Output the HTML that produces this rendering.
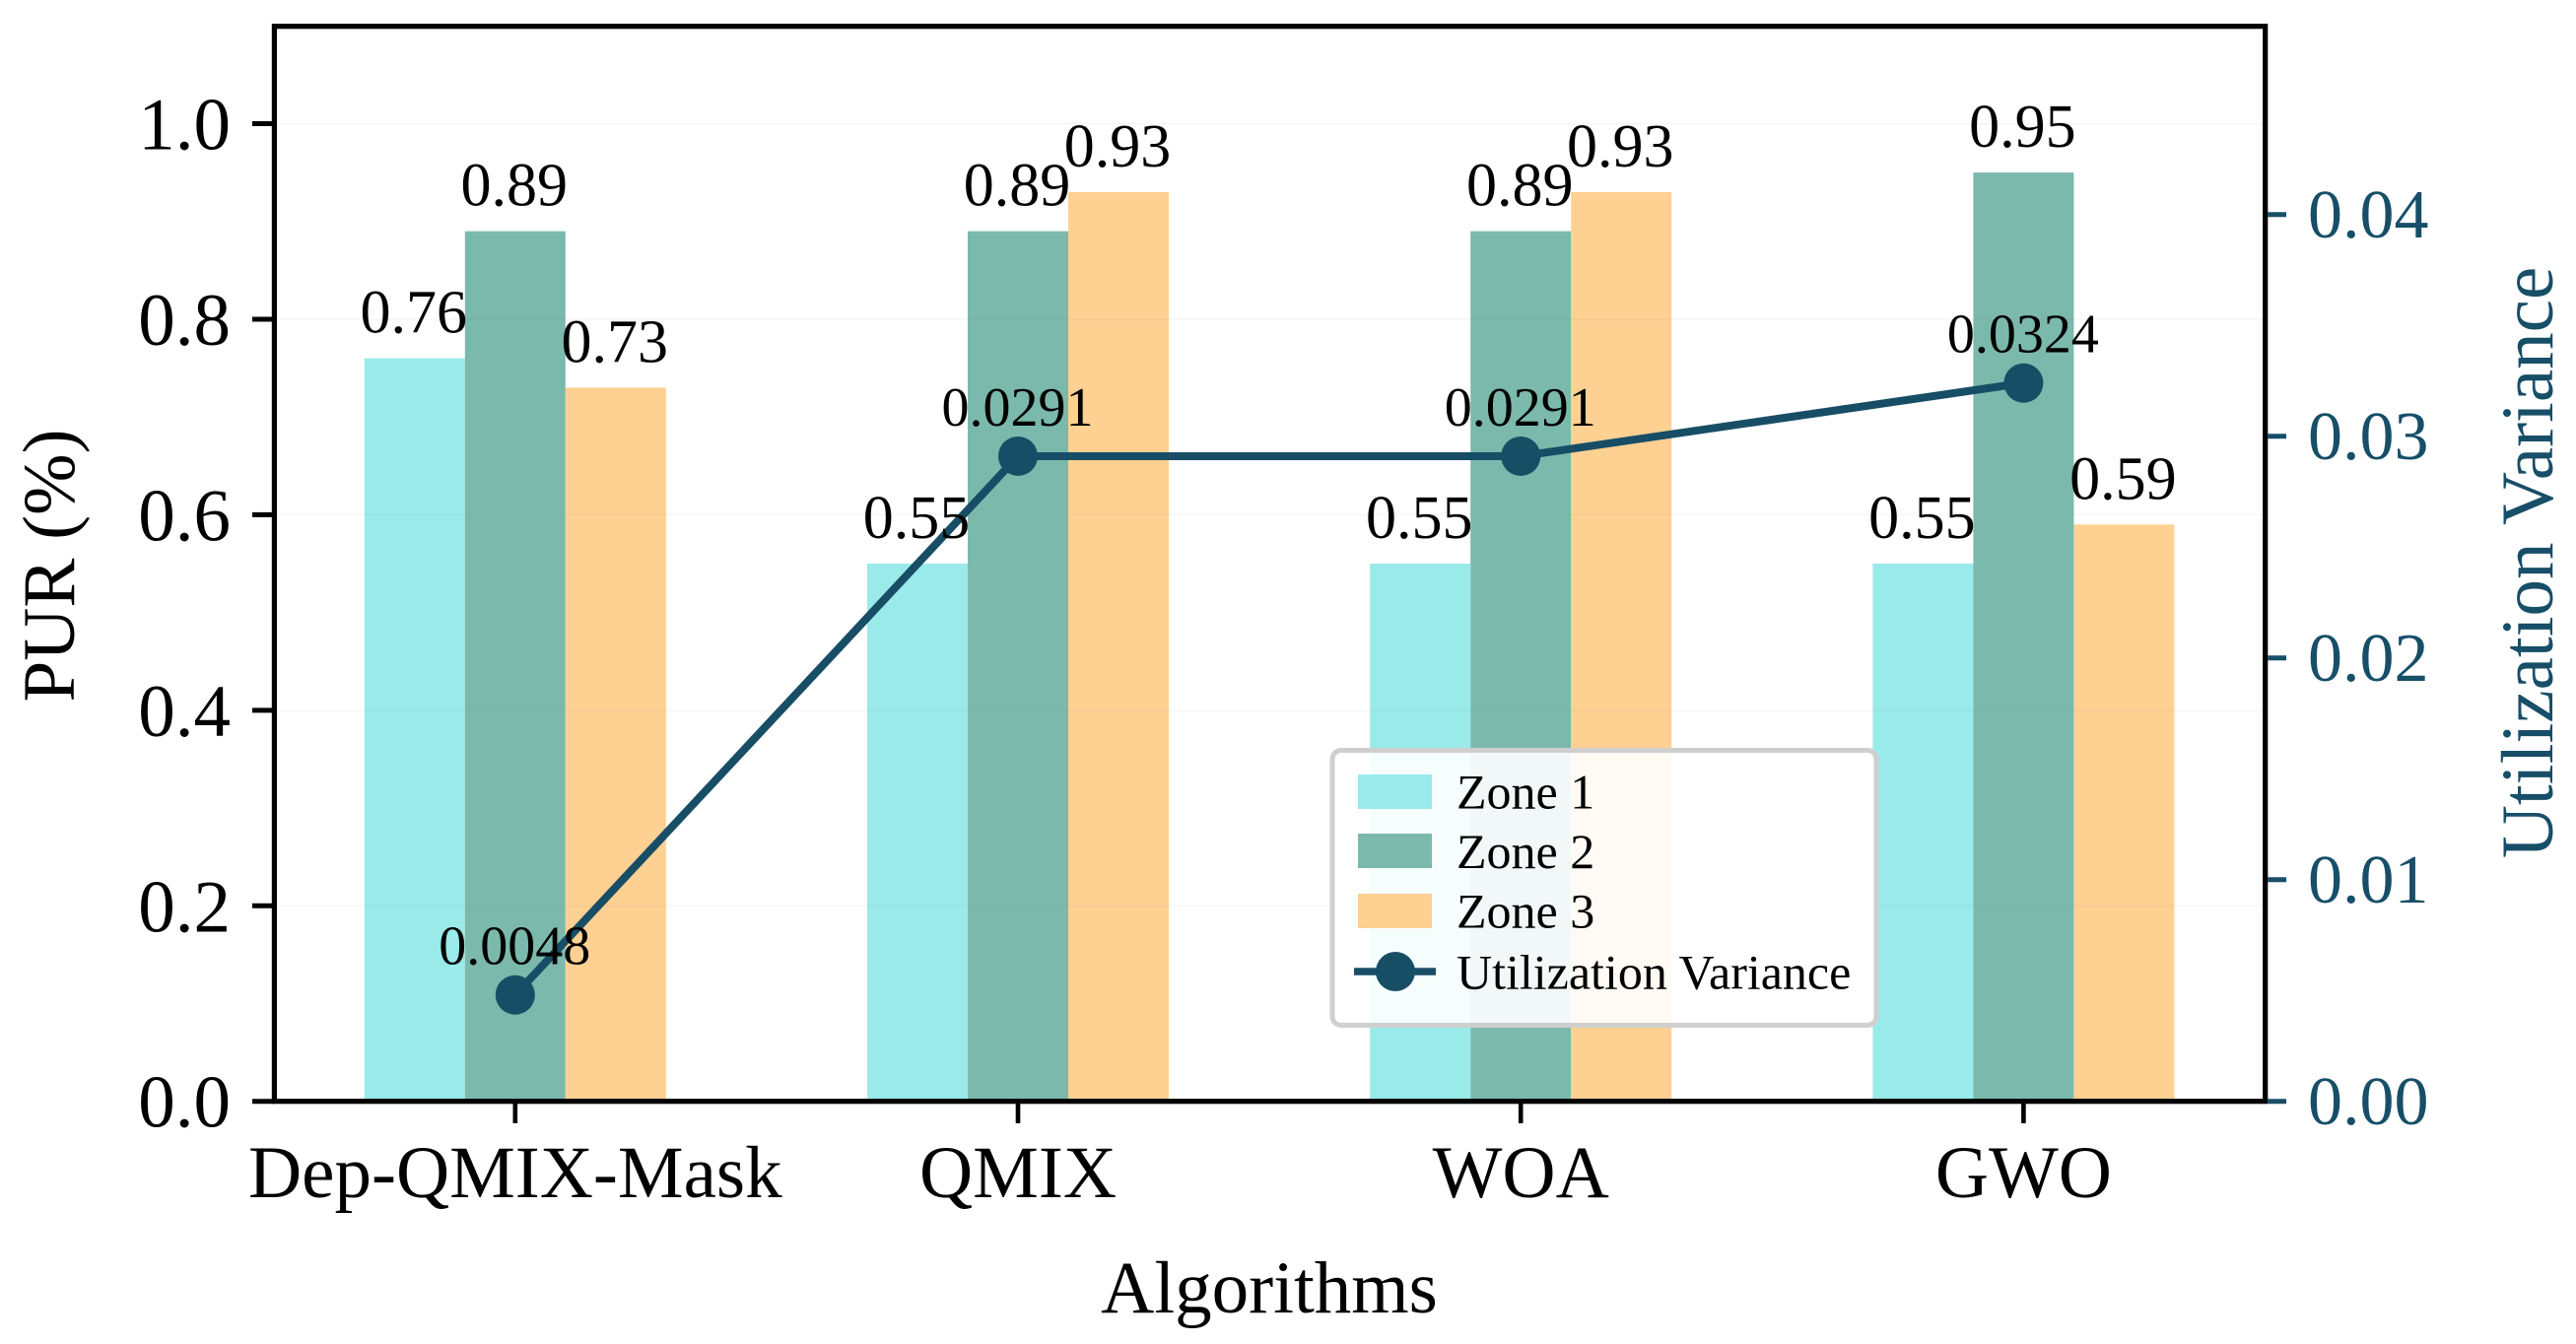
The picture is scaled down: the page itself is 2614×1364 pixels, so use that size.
<!DOCTYPE html>
<html lang="en">
<head>
<meta charset="utf-8">
<title>PUR and Utilization Variance by Algorithm</title>
<style>
html,body{margin:0;padding:0;background:#fff;width:2614px;height:1364px;overflow:hidden}
svg{display:block}
text{font-family:"Liberation Serif","Times New Roman",serif}
</style>
</head>
<body>
<svg id="chart" xmlns="http://www.w3.org/2000/svg" width="2614" height="1364" viewBox="0 0 2614 1364">
  <g id="grid"></g>
  <g id="bars"></g>
  <g id="line"></g>
  <g id="labels"></g>
  <g id="axes"></g>
  <text x="1288" y="1332" font-size="75" text-anchor="middle" fill="#000">Algorithms</text>
  <text transform="translate(75,574) rotate(-90)" font-size="75" text-anchor="middle" fill="#000">PUR (%)</text>
  <text transform="translate(2590,571) rotate(-90)" font-size="75" text-anchor="middle" fill="#174e68">Utilization Variance</text>
  <g>
    <rect x="1352" y="761.5" width="552" height="279" rx="9" ry="9" fill="#fff" fill-opacity="0.9" stroke="#cfcfcf" stroke-width="5"/>
    <rect x="1378" y="786" width="75" height="35" fill="#9aeaea"/>
    <rect x="1378" y="846" width="75" height="35" fill="#7bb9ac"/>
    <rect x="1378" y="907" width="75" height="35" fill="#fed092"/>
    <line x1="1374" y1="986" x2="1457" y2="986" stroke="#184d66" stroke-width="7.5"/>
    <circle cx="1416" cy="986" r="20" fill="#184d66"/>
    <text x="1478" y="820.5" font-size="50" fill="#000">Zone 1</text>
    <text x="1478" y="881" font-size="50" fill="#000">Zone 2</text>
    <text x="1478" y="941.5" font-size="50" fill="#000">Zone 3</text>
    <text x="1478" y="1003.5" font-size="50" fill="#000">Utilization Variance</text>
  </g>
</svg>
<script>
const categories = ["Dep-QMIX-Mask", "QMIX", "WOA", "GWO"];
const zone1Values = [0.76, 0.55, 0.55, 0.55];
const zone2Values = [0.89, 0.89, 0.89, 0.95];
const zone3Values = [0.73, 0.93, 0.93, 0.59];
const varianceValues = [0.0048, 0.0291, 0.0291, 0.0324];
const leftTicks = [0.0, 0.2, 0.4, 0.6, 0.8, 1.0];
const rightTicks = [0.00, 0.01, 0.02, 0.03, 0.04];

const NS = "http://www.w3.org/2000/svg";
const plotLeft = 278.4, plotRight = 2298.7, plotTop = 26.7, plotBottom = 1117.7;
const firstCenter = 522.8, groupStep = 510.2, barWidth = 102;
const leftPxPerUnit = 992.2, rightPxPerUnit = 22500;
const teal = "#184d66", tealText = "#174e68";

function xCat(i) { return firstCenter + groupStep * i; }
function yLeft(v) { return plotBottom - leftPxPerUnit * v; }
function yRight(v) { return plotBottom - rightPxPerUnit * v; }
function make(tag, parent) {
  const el = document.createElementNS(NS, tag);
  parent.appendChild(el);
  return el;
}
function put(el, props) {
  for (const k in props) el.setAttribute(k, props[k]);
  return el;
}

const gridG = document.getElementById("grid");
const barsG = document.getElementById("bars");
const lineG = document.getElementById("line");
const labelsG = document.getElementById("labels");
const axesG = document.getElementById("axes");

/* gridlines */
leftTicks.forEach(function (t) {
  const g = make("line", gridG);
  
  
  put(g, { x1: plotLeft, x2: plotRight, y1: yLeft(t), y2: yLeft(t), stroke: "rgba(128,128,128,0.07)", "stroke-width": 1.6 });
});

/* bars, moved below the gridlines by paint order */
const zones = [
  { values: zone1Values, color: "#9aeaea", offset: -1 },
  { values: zone2Values, color: "#7bb9ac", offset: 0 },
  { values: zone3Values, color: "#fed092", offset: 1 }
];
zones.forEach(function (z) {
  z.values.forEach(function (v, i) {
    const cx = xCat(i) + z.offset * barWidth;
    const r = make("rect", barsG);
    
    
    put(r, { x: cx - barWidth / 2, y: yLeft(v), width: barWidth, height: plotBottom - yLeft(v), fill: z.color });
    const t = make("text", labelsG);
    
    
    put(t, { x: cx - 1, y: yLeft(v) - 26, "font-size": 62, "text-anchor": "middle", fill: "#000" });
    t.textContent = v.toFixed(2);
  });
});
document.getElementById("chart").insertBefore(barsG, gridG);

/* variance line */
const poly = make("polyline", lineG);


put(poly, {
  points: varianceValues.map(function (v, i) { return xCat(i) + "," + yRight(v); }).join(" "),
  fill: "none", stroke: teal, "stroke-width": 8, "stroke-linejoin": "round"
});
varianceValues.forEach(function (v, i) {
  const c = make("circle", lineG);
  
  
  put(c, { cx: xCat(i), cy: yRight(v), r: 20, fill: teal });
  const t = make("text", labelsG);
  
  
  put(t, { x: xCat(i) - 0.5, y: yRight(v) - 31, "font-size": 56, "text-anchor": "middle", fill: "#000" });
  t.textContent = v.toFixed(4);
});

/* spines */
const frame = make("rect", axesG);


put(frame, { x: plotLeft, y: plotTop, width: plotRight - plotLeft, height: plotBottom - plotTop, fill: "none", stroke: "#000", "stroke-width": 5.2 });

/* left axis ticks */
leftTicks.forEach(function (t) {
  const m = make("line", axesG);
  
  
  put(m, { x1: 256, x2: plotLeft, y1: yLeft(t), y2: yLeft(t), stroke: "#000", "stroke-width": 5 });
  const l = make("text", axesG);
  
  
  put(l, { x: 234, y: yLeft(t) + 26, "font-size": 75, "text-anchor": "end", fill: "#000" });
  l.textContent = t.toFixed(1);
});

/* right axis ticks */
rightTicks.forEach(function (t) {
  const m = make("line", axesG);
  
  
  put(m, { x1: plotRight + 2.6, x2: 2320, y1: yRight(t), y2: yRight(t), stroke: tealText, "stroke-width": 5 });
  const l = make("text", axesG);
  
  
  put(l, { x: 2342, y: yRight(t) + 23.5, "font-size": 70, fill: tealText });
  l.textContent = t.toFixed(2);
});

/* category ticks */
categories.forEach(function (name, i) {
  const m = make("line", axesG);
  
  
  put(m, { x1: xCat(i), x2: xCat(i), y1: plotBottom, y2: 1140, stroke: "#000", "stroke-width": 4.6 });
  const l = make("text", axesG);
  
  
  put(l, { x: xCat(i), y: 1215, "font-size": 75, "text-anchor": "middle", fill: "#000" });
  l.textContent = name;
});
</script>
</body>
</html>
